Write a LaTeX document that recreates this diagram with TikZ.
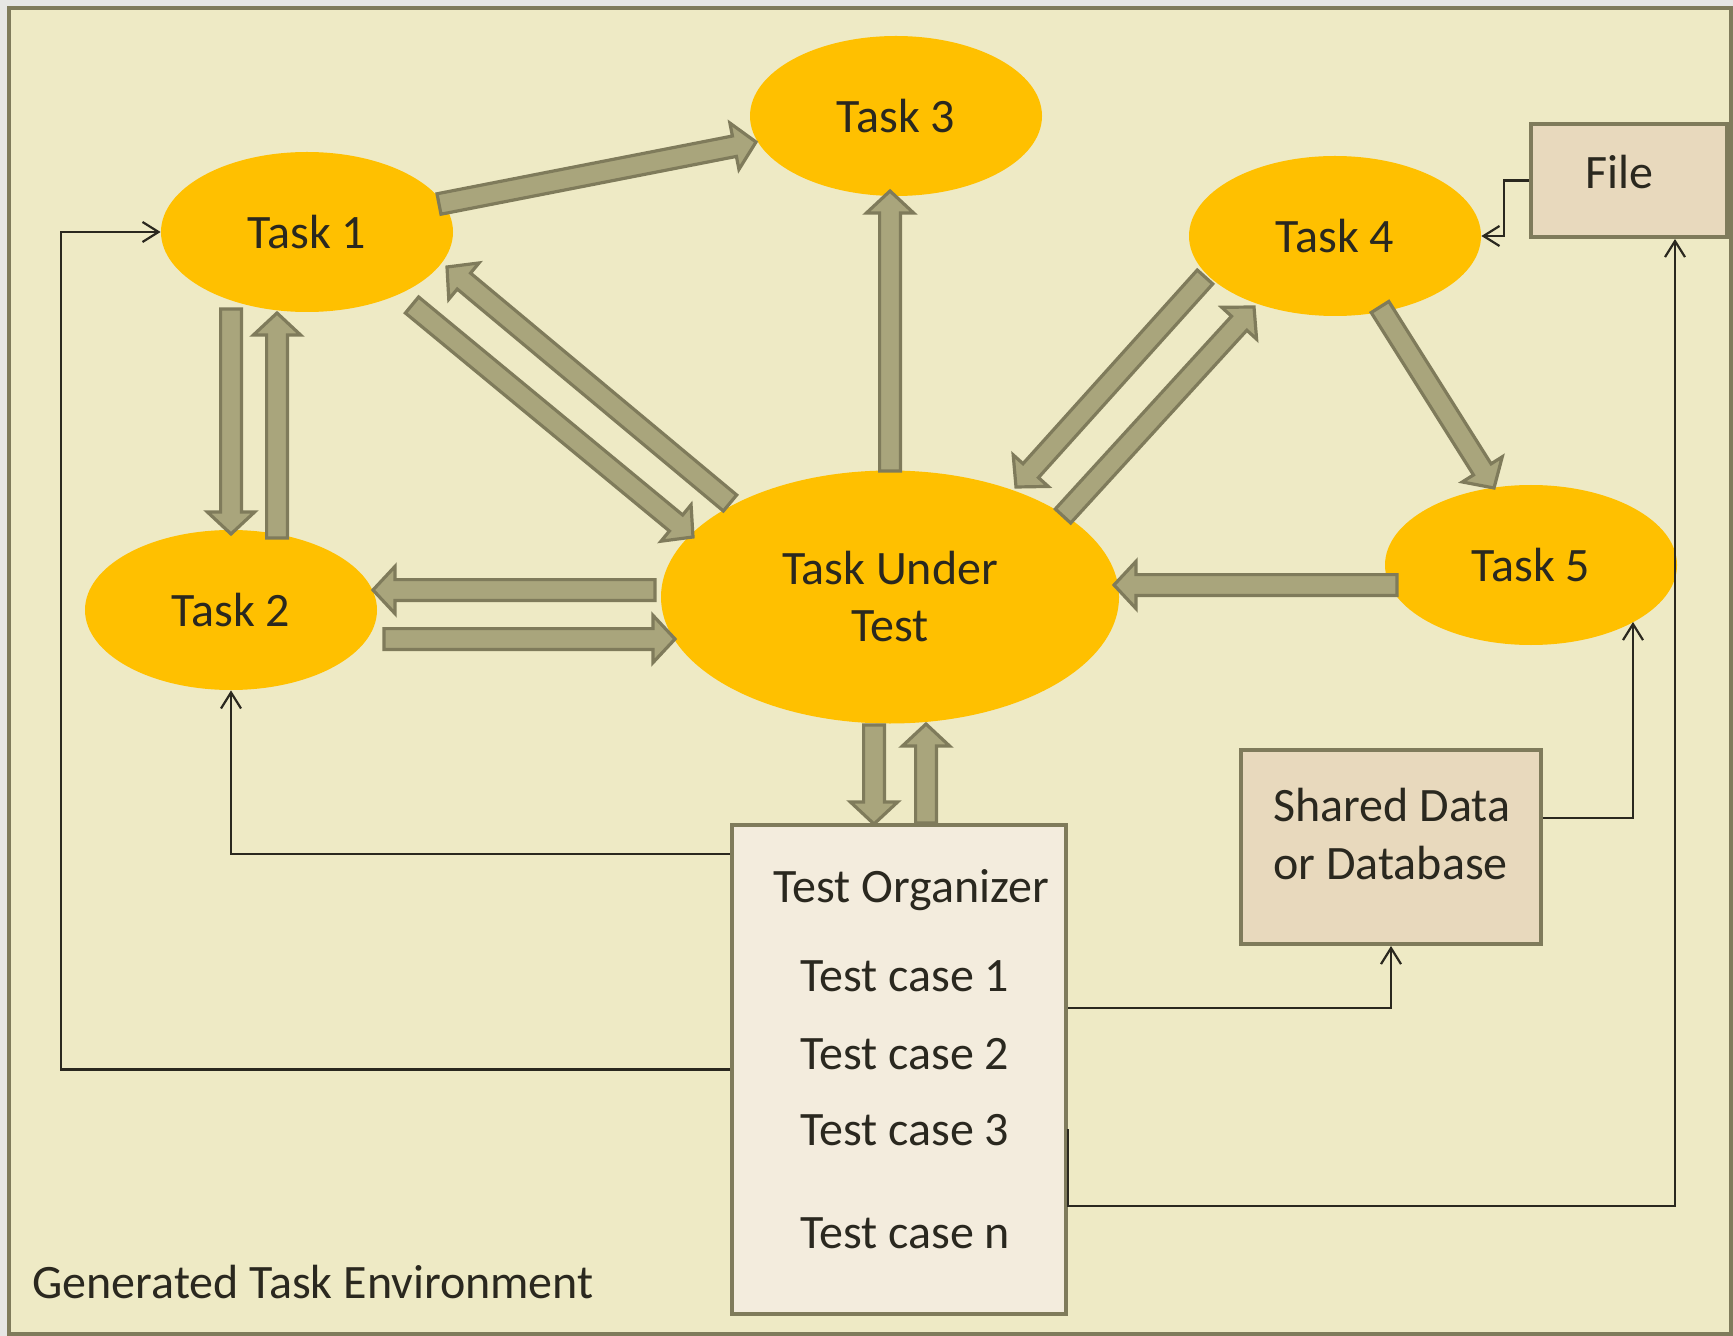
\documentclass[tikz,border=0pt]{standalone}
\usepackage{fontspec}
\setmainfont{Carlito}
\usetikzlibrary{shapes.geometric,calc,arrows.meta}
\definecolor{outc}{HTML}{E6E6E4}
\definecolor{bgc}{HTML}{EEEAC5}
\definecolor{framec}{HTML}{7F7B5B}
\definecolor{taskc}{HTML}{FFC000}
\definecolor{arrfill}{HTML}{A9A57C}
\definecolor{filec}{HTML}{E8D9BD}
\definecolor{orgc}{HTML}{F3ECDD}
\definecolor{txtc}{HTML}{2A281F}
\definecolor{linec}{HTML}{2A281F}
\newcommand{\blockarr}[2]{%
  \path #1 coordinate (ba-s);
  \path #2 coordinate (ba-e);
  \coordinate (ba-n) at ($(ba-e)!11pt!(ba-s)$);
  \filldraw[blockarrow] ($(ba-s)!5.2pt!90:(ba-e)$) -- ($(ba-n)!5.2pt!90:(ba-e)$)
    -- ($(ba-n)!11.8pt!90:(ba-e)$) -- (ba-e) -- ($(ba-n)!11.8pt!-90:(ba-e)$)
    -- ($(ba-n)!5.2pt!-90:(ba-e)$) -- ($(ba-s)!5.2pt!-90:(ba-e)$) -- cycle;
}
\tikzset{
  txt/.style={text=txtc, inner sep=0pt, font=\fontsize{24pt}{28.5pt}\selectfont},
  task/.style={ellipse, fill=taskc, inner sep=0pt, minimum width=146pt, minimum height=80pt,
    align=center, text=txtc, font=\fontsize{24pt}{28.5pt}\selectfont},
  box/.style={rectangle, draw=framec, line width=2pt, inner sep=0pt},
  blockarrow/.style={fill=arrfill, draw=framec, line width=1.6pt, line join=miter},
  thinarrow/.style={draw=linec, line width=1.1pt, -{Straight Barb[length=8pt,width=10pt]}}
}
\begin{document}
\begin{tikzpicture}[x=0.5pt, y=-0.5pt]
\useasboundingbox (0,0) rectangle (1733,1336);
\fill[outc] (0,0) rectangle (1733,1336);
\filldraw[fill=bgc, draw=framec, line width=2pt] (9,8) rectangle (1731,1334);

% task ellipses
\node[task] (t1) at (307,232) {Task 1};
\node[task] (t2) at (231,610) {Task 2};
\node[task] (t3) at (896,116) {Task 3};
\node[task] (t4) at (1335,236) {Task 4};
\node[task] (t5) at (1531,565) {Task 5};
\node[task, minimum width=229pt, minimum height=126.5pt] (tut) at (890,597) {Task Under\\Test};

% boxes
\node[box, fill=filec, minimum width=98pt, minimum height=56.5pt] (file) at (1629,180.5) {};
\node[txt, anchor=base] (filetxt) at (1619,189) {File};
\node[box, fill=filec, minimum width=150pt, minimum height=97pt] (shared) at (1391,847) {};
\node[txt, anchor=base west] (sd1) at (1273,821) {Shared Data};
\node[txt, anchor=base west] (sd2) at (1273,879) {or Database};
\node[box, fill=orgc, minimum width=167pt, minimum height=244.5pt] (org) at (899,1069.5) {};
\node[txt, anchor=base west] (orgtitle) at (773,902) {Test Organizer};
\node[txt, anchor=base west] (tc1) at (800,991) {Test case 1};
\node[txt, anchor=base west] (tc2) at (800,1069) {Test case 2};
\node[txt, anchor=base west] (tc3) at (800,1145) {Test case 3};
\node[txt, anchor=base west] (tcn) at (800,1248) {Test case n};
\node[txt, anchor=base west] (envlabel) at (32,1298) {Generated Task Environment};

% block arrows
\blockarr{($(t1.center)+(132,-28)$)}{($(t3.center)+(-140,26)$)}
\blockarr{($(tut.center)+(-160,-94)$)}{($(t1.center)+(140,35)$)}
\blockarr{($(t1.center)+(105,73)$)}{($(tut.center)+(-197,-60)$)}
\blockarr{($(t1.center)+(-76,77)$)}{($(t2.center)+(0,-76)$)}
\blockarr{($(t2.center)+(46,-72)$)}{($(t1.center)+(-30,81)$)}
\blockarr{($(tut.center)+(-235,-7)$)}{($(t2.center)+(142,-20)$)}
\blockarr{($(t2.center)+(153,29)$)}{($(tut.center)+(-215,42)$)}
\blockarr{($(tut.center)+(0,-126)$)}{($(t3.center)+(-6,75)$)}
\blockarr{($(t4.center)+(-130,41)$)}{($(tut.center)+(126,-110)$)}
\blockarr{($(tut.center)+(173,-81)$)}{($(t4.center)+(-81,71)$)}
\blockarr{($(t4.center)+(45,71)$)}{($(t5.center)+(-37,-77)$)}
\blockarr{($(t5.center)+(-134,20)$)}{($(tut.center)+(224,-12)$)}
\blockarr{($(tut.center)+(-16,128)$)}{($(org.north)+(-25,1)$)}
\blockarr{($(org.north)+(27,0)$)}{($(tut.center)+(36,127)$)}

% thin connectors
\coordinate (lefttrail) at (61,232);
\draw[thinarrow] ($(org.north west)+(0,31)$) -| (t2.south);
\draw[thinarrow] (org.west) -| (lefttrail) -- (t1.west);
\draw[thinarrow] ($(org.north east)+(0,185)$) -| (shared.south);
\draw[thinarrow] ($(org.north east)+(0,306)$) -- ($(org.north east)+(0,383)$) -| ($(file.south east)+(-54,0)$);
\draw[thinarrow] ($(shared.east)+(0,-29)$) -| ($(t5.center)+(102,57)$);
\draw[thinarrow] (file.west) -- ++(-25,0) |- (t4.east);
\end{tikzpicture}
\end{document}
